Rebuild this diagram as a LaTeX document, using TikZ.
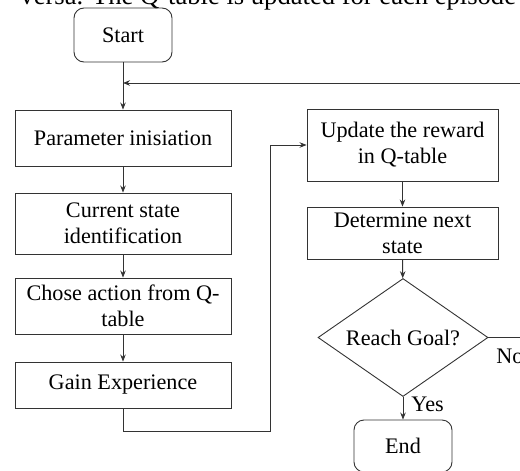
\documentclass[tikz,border=0pt]{standalone}
\usepackage{fontspec}
\setmainfont{Liberation Serif}
\usetikzlibrary{shapes.geometric,arrows.meta}
\begin{document}
\begin{tikzpicture}[x=1pt,y=-1pt,
  font=\fontsize{22.2}{26}\selectfont,
  line width=0.9pt,
  every node/.style={draw=black!80, align=center, inner sep=0pt},
  box/.style={rectangle, minimum width=216pt},
  rbox/.style={rectangle, minimum width=191pt},
  term/.style={rectangle, rounded corners=10pt, minimum width=98pt},
  decision/.style={diamond, minimum width=170pt, minimum height=118pt, shape aspect=1.44},
  lbl/.style={draw=none, anchor=west},
  link/.style={draw=black!80, -{Stealth[length=7pt,width=5.5pt]}},
  plain/.style={draw=black!80}]
\useasboundingbox (0,0) rectangle (520,471);
\clip (0,0) rectangle (520,471);

% running text of the page above the chart
\node[draw=none, anchor=base west, font=\fontsize{26.6}{30}\selectfont] (para) at (20,5) {versa. The Q-table is updated for each episode};

% left column
\node[term, minimum height=54pt] (start) at (123,35) {Start};
\node[box, minimum height=56pt] (param) at (123,138) {Parameter inisiation};
\node[box, minimum height=61pt] (cur) at (123,223.5) {Current state\\identification};
\node[box, minimum height=56pt] (chose) at (123,306) {Chose action from Q-\\table};
\node[box, minimum height=46pt] (gain) at (123,385) {Gain Experience};

% right column
\node[rbox, minimum height=72pt] (upd) at (402.5,145) {Update the reward\\in Q-table};
\node[rbox, minimum height=52pt] (det) at (402.5,233) {Determine next\\state};
\node[decision] (goal) at (403,337.5) {Reach Goal?};
\node[term, minimum height=52pt] (end) at (403,446) {End};

% labels
\node[lbl] (no) at (496,356) {No};
\node[lbl] (yes) at (411,404) {Yes};

% loop-back coordinates
\coordinate (noend) at (520,337.5);
\coordinate (backin) at (520,83);
\coordinate (merge) at (123,83);
\coordinate (low) at (123,431);
\coordinate (turn) at (270,431);
\coordinate (up) at (270,145);

% connectors
\draw[link] (start) -- (param);
\draw[link] (backin) -- (merge);
\draw[link] (param) -- (cur);
\draw[link] (cur) -- (chose);
\draw[link] (chose) -- (gain);
\draw[link] (gain.south) -- (low) -- (turn) -- (up) -- (upd.west);
\draw[link] (upd) -- (det);
\draw[link] (det) -- (goal);
\draw[link] (goal) -- (end);
\draw[plain] (goal.east) -- (noend);
\end{tikzpicture}
\end{document}
